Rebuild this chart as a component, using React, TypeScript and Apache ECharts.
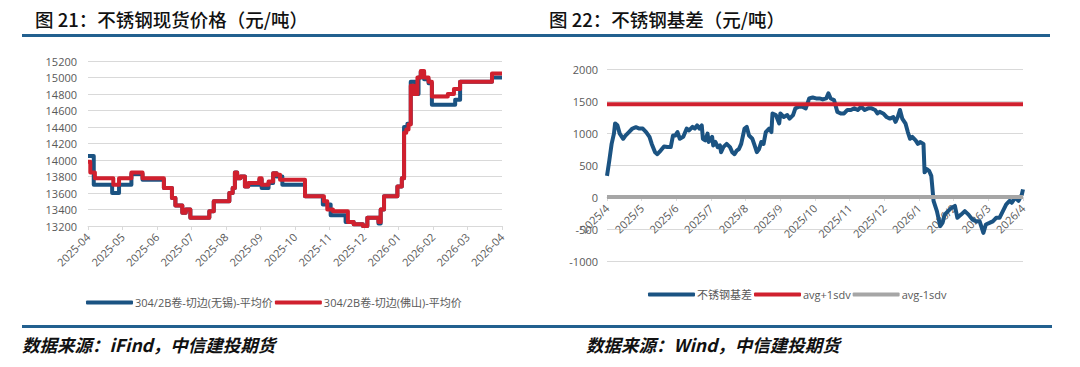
import React, { useEffect, useRef } from "react";
import * as echarts from "echarts";

const leftTickLabels = ["2025-04","2025-05","2025-06","2025-07","2025-08","2025-09","2025-10","2025-11","2025-12","2026-01","2026-02","2026-03","2026-04"];
const rightTickLabels = ["2025/4","2025/5","2025/6","2025/7","2025/8","2025/9","2025/10","2025/11","2025/12","2026/1","2026/2","2026/3","2026/4"];

const wuxiName = "304/2B卷-切边(无锡)-平均价";
const foshanName = "304/2B卷-切边(佛山)-平均价";
const basisName = "不锈钢基差";
const plusName = "avg+1sdv";
const minusName = "avg-1sdv";

const wuxiDates = ["2025-04-01","2025-04-06","2025-04-22","2025-04-28","2025-05-09","2025-05-19","2025-06-07","2025-06-14","2025-06-17","2025-06-23","2025-06-26","2025-06-30","2025-07-17","2025-07-21","2025-08-04","2025-08-07","2025-08-09","2025-08-11","2025-08-14","2025-08-18","2025-08-21","2025-08-31","2025-09-02","2025-09-08","2025-09-12","2025-09-15","2025-09-20","2025-10-10","2025-10-26","2025-11-02","2025-11-15","2025-11-22","2025-11-30","2025-12-04","2025-12-14","2025-12-16","2025-12-19","2025-12-31","2026-01-04","2026-01-06","2026-01-09","2026-01-12","2026-01-16","2026-01-19","2026-01-21","2026-01-24","2026-01-28","2026-01-31","2026-02-19","2026-02-23","2026-03-23","2026-04-01"];
const wuxiValues = [14050,13700,13600,13700,13830,13760,13660,13540,13450,13360,13400,13300,13380,13500,13600,13660,13850,13780,13800,13680,13700,13760,13660,13720,13840,13800,13700,13560,13460,13330,13250,13220,13200,13300,13230,13400,13560,13680,13780,14400,14440,14950,14800,15000,15070,14980,14930,14670,14730,14950,15000,15000];

const foshanDates = ["2025-04-01","2025-04-03","2025-04-07","2025-04-23","2025-04-28","2025-05-09","2025-05-19","2025-06-07","2025-06-14","2025-06-17","2025-06-23","2025-06-26","2025-06-30","2025-07-17","2025-07-21","2025-08-04","2025-08-07","2025-08-09","2025-08-11","2025-08-14","2025-08-18","2025-08-21","2025-08-31","2025-09-02","2025-09-08","2025-09-12","2025-09-15","2025-09-18","2025-10-10","2025-10-27","2025-10-30","2025-11-04","2025-11-17","2025-11-22","2025-11-30","2025-12-04","2025-12-14","2025-12-16","2025-12-19","2025-12-31","2026-01-04","2026-01-06","2026-01-08","2026-01-10","2026-01-12","2026-01-15","2026-01-18","2026-01-21","2026-01-24","2026-01-28","2026-01-31","2026-02-13","2026-02-18","2026-02-23","2026-03-23","2026-04-01"];
const foshanValues = [13980,13850,13780,13700,13780,13850,13780,13660,13540,13450,13360,13400,13300,13380,13500,13600,13660,13850,13780,13800,13680,13720,13780,13700,13740,13840,13820,13760,13560,13500,13400,13380,13250,13220,13200,13300,13250,13400,13560,13680,13780,14330,14370,14430,14900,14800,15000,15080,15000,14950,14770,14800,14860,14950,15050,15050];

const basisDates = ["2025-04-01","2025-04-03","2025-04-05","2025-04-07","2025-04-08","2025-04-10","2025-04-12","2025-04-15","2025-04-17","2025-04-20","2025-04-23","2025-04-26","2025-04-29","2025-05-02","2025-05-05","2025-05-08","2025-05-10","2025-05-13","2025-05-15","2025-05-18","2025-05-21","2025-05-24","2025-05-27","2025-05-29","2025-05-31","2025-06-02","2025-06-04","2025-06-07","2025-06-10","2025-06-12","2025-06-15","2025-06-17","2025-06-19","2025-06-21","2025-06-23","2025-06-24","2025-06-26","2025-06-28","2025-06-29","2025-07-02","2025-07-03","2025-07-05","2025-07-07","2025-07-09","2025-07-10","2025-07-12","2025-07-15","2025-07-18","2025-07-20","2025-07-22","2025-07-24","2025-07-26","2025-07-28","2025-07-31","2025-08-02","2025-08-04","2025-08-07","2025-08-09","2025-08-11","2025-08-13","2025-08-15","2025-08-17","2025-08-19","2025-08-22","2025-08-24","2025-08-25","2025-08-28","2025-08-31","2025-09-01","2025-09-04","2025-09-07","2025-09-09","2025-09-12","2025-09-14","2025-09-17","2025-09-20","2025-09-23","2025-09-26","2025-09-29","2025-10-02","2025-10-05","2025-10-08","2025-10-11","2025-10-13","2025-10-15","2025-10-18","2025-10-21","2025-10-24","2025-10-27","2025-10-30","2025-11-02","2025-11-05","2025-11-08","2025-11-11","2025-11-14","2025-11-17","2025-11-20","2025-11-23","2025-11-25","2025-11-27","2025-11-30","2025-12-03","2025-12-06","2025-12-09","2025-12-11","2025-12-13","2025-12-15","2025-12-17","2025-12-20","2025-12-22","2025-12-24","2025-12-26","2025-12-29","2025-12-31","2026-01-02","2026-01-05","2026-01-06","2026-01-08","2026-01-10","2026-01-12","2026-01-14","2026-01-17","2026-01-20","2026-01-22","2026-01-24","2026-01-27","2026-01-30","2026-02-02","2026-02-04","2026-02-07","2026-02-10","2026-02-13","2026-02-16","2026-02-19","2026-02-22","2026-02-25","2026-02-27","2026-03-02","2026-03-05","2026-03-08","2026-03-11","2026-03-14","2026-03-17","2026-03-20","2026-03-22","2026-03-25","2026-03-28","2026-03-31","2026-04-01"];
const basisValues = [330,570,830,990,1150,1120,990,910,960,1015,1070,1090,1070,1070,1015,940,830,700,670,725,790,780,780,960,960,1015,910,940,1070,1040,1095,1070,1120,1070,1120,910,885,990,860,940,805,860,780,805,700,780,830,780,700,670,725,750,830,1070,1095,960,910,805,700,750,860,830,1015,1070,1015,1305,1280,1150,1305,1250,1280,1225,1280,1385,1410,1410,1385,1540,1555,1540,1540,1525,1540,1620,1540,1515,1330,1305,1305,1360,1360,1385,1360,1410,1360,1385,1385,1360,1305,1330,1305,1250,1225,1250,1175,1250,1360,1225,1145,1015,910,940,885,830,860,830,385,435,410,330,-60,-220,-455,-405,-275,-220,-170,-140,-325,-275,-220,-275,-350,-380,-380,-560,-430,-405,-380,-325,-325,-220,-115,-60,-90,-10,-60,40,120];

const bandDates = ["2025-04-01","2026-04-01"];
const avgPlusValues = [1450,1450];
const avgMinusValues = [0,0];

function toMonthPos(d: string): number {
  const [y, m, dd] = d.split("-").map(Number);
  const dim = new Date(y, m, 0).getDate();
  return (y - 2025) * 12 + (m - 4) + (dd - 1) / dim;
}
function pairs(dates: string[], vals: number[]) {
  return dates.map((d, i) => [toMonthPos(d), vals[i]]);
}

const FONT = "'Open Sans','Noto Sans CJK SC',sans-serif";
const CJK = "'Noto Sans CJK SC',sans-serif";
const BLUE = "#1b5382";
const RED = "#d0202e";
const GRAY = "#a6a6a6";
const GRID = "#d9d9d9";
const LABEL = "#595959";
const RULE = "#22608f";

export default function App() {
  const ref = useRef<HTMLDivElement>(null);
  useEffect(() => {
    if (!ref.current) return;
    const chart = echarts.init(ref.current, undefined, { renderer: "svg" });
    const lbl = { color: LABEL, fontSize: 11, fontFamily: FONT };
    chart.setOption({
      animation: false,
      backgroundColor: "#fff",
      grid: [
        { left: 88, right: 578, top: 61, bottom: 141 },
        { left: 607, right: 57, top: 69, bottom: 106 },
      ],
      xAxis: [
        {
          gridIndex: 0, type: "value", min: 0, max: 12, interval: 1,
          axisLine: { show: true, onZero: false, lineStyle: { color: GRID } },
          axisTick: { show: true, length: 4, lineStyle: { color: GRID } },
          splitLine: { show: false },
          axisLabel: { ...lbl, rotate: 45, margin: 9, formatter: (v: number) => leftTickLabels[Math.round(v)] ?? "" },
        },
        {
          gridIndex: 1, type: "value", min: 0, max: 12, interval: 1, position: "bottom", offset: -64,
          axisLine: { show: true, onZero: false, lineStyle: { color: GRID } },
          axisTick: { show: true, length: 4, lineStyle: { color: GRID } },
          splitLine: { show: false },
          axisLabel: { ...lbl, rotate: 45, margin: 9, formatter: (v: number) => rightTickLabels[Math.round(v)] ?? "" },
        },
      ],
      yAxis: [
        {
          gridIndex: 0, type: "value", min: 13200, max: 15200, interval: 200,
          axisLine: { show: false }, axisTick: { show: false },
          splitLine: { lineStyle: { color: GRID } },
          axisLabel: { ...lbl, margin: 11, formatter: (v: number) => String(v) },
        },
        {
          gridIndex: 1, type: "value", min: -1000, max: 2000, interval: 500,
          axisLine: { show: false }, axisTick: { show: false },
          splitLine: { lineStyle: { color: GRID } },
          axisLabel: { ...lbl, margin: 9, formatter: (v: number) => String(v) },
        },
      ],
      legend: [
        {
          data: [wuxiName, foshanName], left: 86, top: 297, padding: 0,
          icon: "roundRect", itemWidth: 47, itemHeight: 4, itemGap: 2,
          textStyle: { ...lbl, padding: [0, 0, 0, -3] },
        },
        {
          data: [basisName, plusName, minusName], left: 648, top: 289, padding: 0,
          icon: "roundRect", itemWidth: 47, itemHeight: 4, itemGap: 2,
          textStyle: { ...lbl, padding: [0, 0, 0, -3] },
        },
      ],
      series: [
        {
          name: wuxiName, type: "line", xAxisIndex: 0, yAxisIndex: 0, step: "end",
          showSymbol: false, data: pairs(wuxiDates, wuxiValues),
          lineStyle: { color: BLUE, width: 4, join: "round" }, itemStyle: { color: BLUE },
        },
        {
          name: foshanName, type: "line", xAxisIndex: 0, yAxisIndex: 0, step: "end",
          showSymbol: false, data: pairs(foshanDates, foshanValues),
          lineStyle: { color: RED, width: 4, join: "round" }, itemStyle: { color: RED },
        },
        {
          name: basisName, type: "line", xAxisIndex: 1, yAxisIndex: 1,
          showSymbol: false, data: pairs(basisDates, basisValues),
          lineStyle: { color: BLUE, width: 4, join: "round" }, itemStyle: { color: BLUE },
        },
        {
          name: plusName, type: "line", xAxisIndex: 1, yAxisIndex: 1,
          showSymbol: false, data: pairs(bandDates, avgPlusValues),
          lineStyle: { color: RED, width: 4 }, itemStyle: { color: RED },
        },
        {
          name: minusName, type: "line", xAxisIndex: 1, yAxisIndex: 1,
          showSymbol: false, data: pairs(bandDates, avgMinusValues),
          lineStyle: { color: GRAY, width: 4 }, itemStyle: { color: GRAY },
        },
      ],
      graphic: [
        { type: "text", left: 35, top: 10, style: { text: "图 21：不锈钢现货价格（元/吨）", fill: "#111", fontSize: 18.5, fontWeight: 500, fontFamily: CJK } },
        { type: "text", left: 549, top: 10, style: { text: "图 22：不锈钢基差（元/吨）", fill: "#111", fontSize: 18.5, fontWeight: 500, fontFamily: CJK } },
        { type: "rect", shape: { x: 22, y: 34, width: 1028, height: 3 }, style: { fill: RULE } },
        { type: "rect", shape: { x: 22, y: 325, width: 1030, height: 3 }, style: { fill: RULE } },
        { type: "text", left: 22, top: 336, style: { text: "数据来源：iFind，中信建投期货", fill: "#111", fontSize: 17.5, fontStyle: "italic", fontWeight: "bold", fontFamily: CJK } },
        { type: "text", left: 586, top: 336, style: { text: "数据来源：Wind，中信建投期货", fill: "#111", fontSize: 17.5, fontStyle: "italic", fontWeight: "bold", fontFamily: CJK } },
      ],
    });
    return () => chart.dispose();
  }, []);
  return <div ref={ref} style={{ position: "fixed", left: 0, top: 0, width: 1080, height: 367, background: "#fff" }} />;
}
